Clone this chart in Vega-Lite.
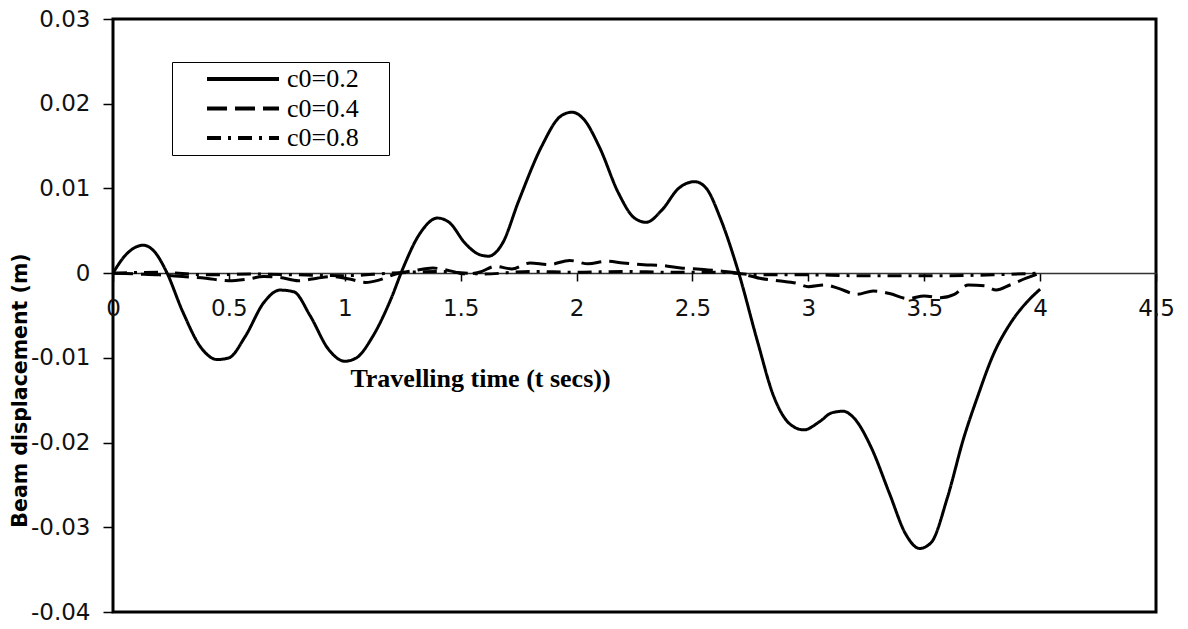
{
  "$schema": "https://vega.github.io/schema/vega-lite/v6.json",
  "width": 1043,
  "height": 593,
  "autosize": "none",
  "padding": {"left": 113, "top": 19, "right": 32, "bottom": 17},
  "background": "white",
  "config": {
    "font": "DejaVu Sans",
    "view": {"stroke": "black", "strokeWidth": 3}
  },
  "data": {
    "values": [
      {"t": 0, "y": 0, "s": "c0=0.2"},
      {"t": 0.05, "y": 0.002, "s": "c0=0.2"},
      {"t": 0.1, "y": 0.0031, "s": "c0=0.2"},
      {"t": 0.13, "y": 0.0033, "s": "c0=0.2"},
      {"t": 0.18, "y": 0.0025, "s": "c0=0.2"},
      {"t": 0.23, "y": 0.0002, "s": "c0=0.2"},
      {"t": 0.3, "y": -0.0045, "s": "c0=0.2"},
      {"t": 0.38, "y": -0.0088, "s": "c0=0.2"},
      {"t": 0.45, "y": -0.0102, "s": "c0=0.2"},
      {"t": 0.5, "y": -0.01, "s": "c0=0.2"},
      {"t": 0.57, "y": -0.0075, "s": "c0=0.2"},
      {"t": 0.65, "y": -0.0035, "s": "c0=0.2"},
      {"t": 0.72, "y": -0.002, "s": "c0=0.2"},
      {"t": 0.78, "y": -0.0022, "s": "c0=0.2"},
      {"t": 0.85, "y": -0.005, "s": "c0=0.2"},
      {"t": 0.93, "y": -0.009, "s": "c0=0.2"},
      {"t": 1.0, "y": -0.0104, "s": "c0=0.2"},
      {"t": 1.05, "y": -0.01, "s": "c0=0.2"},
      {"t": 1.12, "y": -0.0075, "s": "c0=0.2"},
      {"t": 1.2, "y": -0.003, "s": "c0=0.2"},
      {"t": 1.25, "y": 0.0005, "s": "c0=0.2"},
      {"t": 1.32, "y": 0.0045, "s": "c0=0.2"},
      {"t": 1.4, "y": 0.0065, "s": "c0=0.2"},
      {"t": 1.45, "y": 0.006, "s": "c0=0.2"},
      {"t": 1.52, "y": 0.0035, "s": "c0=0.2"},
      {"t": 1.58, "y": 0.0022, "s": "c0=0.2"},
      {"t": 1.62, "y": 0.002, "s": "c0=0.2"},
      {"t": 1.68, "y": 0.0035, "s": "c0=0.2"},
      {"t": 1.75, "y": 0.0085, "s": "c0=0.2"},
      {"t": 1.85, "y": 0.015, "s": "c0=0.2"},
      {"t": 1.93, "y": 0.0185, "s": "c0=0.2"},
      {"t": 1.98, "y": 0.019, "s": "c0=0.2"},
      {"t": 2.03, "y": 0.0182, "s": "c0=0.2"},
      {"t": 2.1, "y": 0.0148, "s": "c0=0.2"},
      {"t": 2.18, "y": 0.0095, "s": "c0=0.2"},
      {"t": 2.25, "y": 0.0065, "s": "c0=0.2"},
      {"t": 2.3, "y": 0.006, "s": "c0=0.2"},
      {"t": 2.37, "y": 0.0075, "s": "c0=0.2"},
      {"t": 2.44, "y": 0.01, "s": "c0=0.2"},
      {"t": 2.51, "y": 0.0108, "s": "c0=0.2"},
      {"t": 2.56, "y": 0.01, "s": "c0=0.2"},
      {"t": 2.62, "y": 0.0065, "s": "c0=0.2"},
      {"t": 2.7, "y": 0.0, "s": "c0=0.2"},
      {"t": 2.78, "y": -0.008, "s": "c0=0.2"},
      {"t": 2.85, "y": -0.0145, "s": "c0=0.2"},
      {"t": 2.92, "y": -0.0178, "s": "c0=0.2"},
      {"t": 2.98, "y": -0.0185, "s": "c0=0.2"},
      {"t": 3.05, "y": -0.0175, "s": "c0=0.2"},
      {"t": 3.1, "y": -0.0165, "s": "c0=0.2"},
      {"t": 3.15, "y": -0.0163, "s": "c0=0.2"},
      {"t": 3.2, "y": -0.0172, "s": "c0=0.2"},
      {"t": 3.27, "y": -0.0205, "s": "c0=0.2"},
      {"t": 3.35, "y": -0.026, "s": "c0=0.2"},
      {"t": 3.42, "y": -0.0308, "s": "c0=0.2"},
      {"t": 3.48, "y": -0.0325, "s": "c0=0.2"},
      {"t": 3.53, "y": -0.0318, "s": "c0=0.2"},
      {"t": 3.6, "y": -0.0265, "s": "c0=0.2"},
      {"t": 3.67, "y": -0.0195, "s": "c0=0.2"},
      {"t": 3.73, "y": -0.0146, "s": "c0=0.2"},
      {"t": 3.8, "y": -0.0095, "s": "c0=0.2"},
      {"t": 3.87, "y": -0.006, "s": "c0=0.2"},
      {"t": 3.94, "y": -0.0035, "s": "c0=0.2"},
      {"t": 4.0, "y": -0.0019, "s": "c0=0.2"},

      {"t": 0, "y": 0, "s": "c0=0.4"},
      {"t": 0.1, "y": -0.0001, "s": "c0=0.4"},
      {"t": 0.2, "y": -0.0002, "s": "c0=0.4"},
      {"t": 0.3, "y": -0.0004, "s": "c0=0.4"},
      {"t": 0.4, "y": -0.0006, "s": "c0=0.4"},
      {"t": 0.5, "y": -0.0009, "s": "c0=0.4"},
      {"t": 0.58, "y": -0.0007, "s": "c0=0.4"},
      {"t": 0.65, "y": -0.0004, "s": "c0=0.4"},
      {"t": 0.72, "y": -0.0005, "s": "c0=0.4"},
      {"t": 0.8, "y": -0.0009, "s": "c0=0.4"},
      {"t": 0.88, "y": -0.0006, "s": "c0=0.4"},
      {"t": 0.95, "y": -0.0004, "s": "c0=0.4"},
      {"t": 1.02, "y": -0.0007, "s": "c0=0.4"},
      {"t": 1.09, "y": -0.0011, "s": "c0=0.4"},
      {"t": 1.15, "y": -0.0008, "s": "c0=0.4"},
      {"t": 1.22, "y": -0.0001, "s": "c0=0.4"},
      {"t": 1.3, "y": 0.0003, "s": "c0=0.4"},
      {"t": 1.38, "y": 0.0006, "s": "c0=0.4"},
      {"t": 1.45, "y": 0.0003, "s": "c0=0.4"},
      {"t": 1.52, "y": -0.0001, "s": "c0=0.4"},
      {"t": 1.58, "y": 0.0001, "s": "c0=0.4"},
      {"t": 1.65, "y": 0.0008, "s": "c0=0.4"},
      {"t": 1.72, "y": 0.0005, "s": "c0=0.4"},
      {"t": 1.8, "y": 0.0012, "s": "c0=0.4"},
      {"t": 1.88, "y": 0.001, "s": "c0=0.4"},
      {"t": 1.97, "y": 0.0015, "s": "c0=0.4"},
      {"t": 2.05, "y": 0.0011, "s": "c0=0.4"},
      {"t": 2.13, "y": 0.0014, "s": "c0=0.4"},
      {"t": 2.2, "y": 0.0012, "s": "c0=0.4"},
      {"t": 2.29, "y": 0.001, "s": "c0=0.4"},
      {"t": 2.37, "y": 0.0009, "s": "c0=0.4"},
      {"t": 2.45, "y": 0.0006, "s": "c0=0.4"},
      {"t": 2.52, "y": 0.0005, "s": "c0=0.4"},
      {"t": 2.6, "y": 0.0003, "s": "c0=0.4"},
      {"t": 2.7, "y": 0.0, "s": "c0=0.4"},
      {"t": 2.79, "y": -0.0006, "s": "c0=0.4"},
      {"t": 2.87, "y": -0.0009, "s": "c0=0.4"},
      {"t": 2.95, "y": -0.0012, "s": "c0=0.4"},
      {"t": 3.0, "y": -0.0016, "s": "c0=0.4"},
      {"t": 3.07, "y": -0.0014, "s": "c0=0.4"},
      {"t": 3.13, "y": -0.0018, "s": "c0=0.4"},
      {"t": 3.21, "y": -0.0025, "s": "c0=0.4"},
      {"t": 3.28, "y": -0.0021, "s": "c0=0.4"},
      {"t": 3.35, "y": -0.0024, "s": "c0=0.4"},
      {"t": 3.43, "y": -0.003, "s": "c0=0.4"},
      {"t": 3.5, "y": -0.0027, "s": "c0=0.4"},
      {"t": 3.57, "y": -0.0029, "s": "c0=0.4"},
      {"t": 3.63, "y": -0.0025, "s": "c0=0.4"},
      {"t": 3.69, "y": -0.0014, "s": "c0=0.4"},
      {"t": 3.76, "y": -0.0015, "s": "c0=0.4"},
      {"t": 3.81, "y": -0.002, "s": "c0=0.4"},
      {"t": 3.87, "y": -0.0014, "s": "c0=0.4"},
      {"t": 3.94, "y": -0.0006, "s": "c0=0.4"},
      {"t": 4.0, "y": 0.0, "s": "c0=0.4"},

      {"t": 0, "y": 0, "s": "c0=0.8"},
      {"t": 0.2, "y": 0.0001, "s": "c0=0.8"},
      {"t": 0.4, "y": -0.0002, "s": "c0=0.8"},
      {"t": 0.6, "y": -0.0001, "s": "c0=0.8"},
      {"t": 0.8, "y": -0.0002, "s": "c0=0.8"},
      {"t": 1.0, "y": -0.0003, "s": "c0=0.8"},
      {"t": 1.2, "y": 0.0, "s": "c0=0.8"},
      {"t": 1.4, "y": 0.0002, "s": "c0=0.8"},
      {"t": 1.6, "y": -0.0001, "s": "c0=0.8"},
      {"t": 1.8, "y": 0.0002, "s": "c0=0.8"},
      {"t": 2.0, "y": 0.0001, "s": "c0=0.8"},
      {"t": 2.2, "y": 0.0002, "s": "c0=0.8"},
      {"t": 2.4, "y": 0.0001, "s": "c0=0.8"},
      {"t": 2.6, "y": 0.0001, "s": "c0=0.8"},
      {"t": 2.8, "y": -0.0002, "s": "c0=0.8"},
      {"t": 3.0, "y": -0.0002, "s": "c0=0.8"},
      {"t": 3.2, "y": -0.0003, "s": "c0=0.8"},
      {"t": 3.4, "y": -0.0003, "s": "c0=0.8"},
      {"t": 3.6, "y": -0.0003, "s": "c0=0.8"},
      {"t": 3.8, "y": -0.0002, "s": "c0=0.8"},
      {"t": 4.0, "y": 0.0, "s": "c0=0.8"}
    ]
  },
  "mark": {"type": "line", "interpolate": "monotone", "strokeWidth": 3, "color": "black"},
  "encoding": {
    "x": {
      "field": "t", "type": "quantitative",
      "scale": {"domain": [0, 4.5], "nice": false, "zero": false},
      "axis": {
        "values": [0, 0.5, 1, 1.5, 2, 2.5, 3, 3.5, 4, 4.5],
        "labelExpr": "'' + datum.value",
        "offset": -339,
        "grid": false,
        "labelFlush": false,
        "labelOverlap": false,
        "labelFont": "DejaVu Sans",
        "labelFontSize": 23,
        "labelColor": "#111",
        "labelPadding": 16,
        "tickSize": 8,
        "tickWidth": 1.5,
        "tickColor": "black",
        "domainColor": "#333",
        "domainWidth": 1.5,
        "title": "Travelling time (t secs))",
        "titleFont": "Liberation Serif",
        "titleFontWeight": "bold",
        "titleFontSize": 26,
        "titleColor": "black",
        "titleX": 367,
        "titleY": 105,
        "titleAlign": "center",
        "titleBaseline": "middle"
      }
    },
    "y": {
      "field": "y", "type": "quantitative",
      "scale": {"domain": [-0.04, 0.03], "nice": false, "zero": false},
      "axis": {
        "values": [-0.04, -0.03, -0.02, -0.01, 0, 0.01, 0.02, 0.03],
        "labelExpr": "replace(format(datum.value, '.2~f'), '\u2212', '-')",
        "grid": false,
        "domain": false,
        "labelFont": "DejaVu Sans",
        "labelFontSize": 23,
        "labelColor": "#111",
        "labelPadding": 13,
        "tickSize": 10,
        "tickWidth": 1.5,
        "tickColor": "black",
        "title": "Beam displacement (m)",
        "titleFont": "DejaVu Sans",
        "titleFontWeight": "bold",
        "titleFontSize": 20.5,
        "titleColor": "black",
        "titleAngle": -90,
        "titleX": -93,
        "titleY": 371,
        "titleAlign": "center",
        "titleBaseline": "middle"
      }
    },
    "strokeDash": {
      "field": "s", "type": "nominal",
      "scale": {
        "domain": ["c0=0.2", "c0=0.4", "c0=0.8"],
        "range": [[1, 0], [20, 8], [14, 7, 3, 7]]
      },
      "legend": {
        "orient": "none",
        "legendX": 59,
        "legendY": 43,
        "title": " ",
        "titleOrient": "right",
        "titlePadding": 26,
        "titleFontSize": 26,
        "padding": 4,
        "strokeColor": "black",
        "fillColor": "white",
        "symbolType": "stroke",
        "symbolSize": 5184,
        "symbolStrokeWidth": 4,
        "symbolStrokeColor": "black",
        "symbolOffset": 29,
        "clipHeight": 26,
        "rowPadding": 3.5,
        "labelOffset": 6,
        "labelFont": "Liberation Serif",
        "labelFontSize": 26,
        "labelColor": "black",
        "labelBaseline": "middle"
      }
    }
  }
}
